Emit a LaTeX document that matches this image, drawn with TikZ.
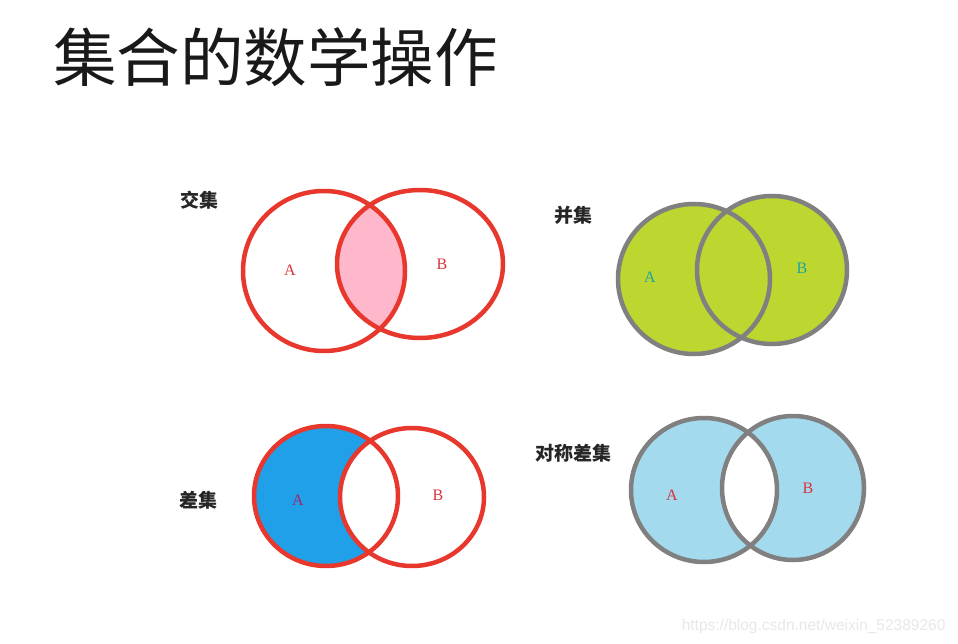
\documentclass[tikz,border=0pt]{standalone}
\usepackage{fontspec}
\setmainfont{Liberation Serif}
\newfontfamily\cjk{Noto Sans CJK SC}
\newfontfamily\urlfont{Liberation Sans}
\definecolor{vred}{HTML}{E8372C}
\definecolor{vgray}{HTML}{808080}
\definecolor{vpink}{HTML}{FFB7CB}
\definecolor{vgreen}{HTML}{BDD630}
\definecolor{vblue}{HTML}{1FA0E8}
\definecolor{vlblue}{HTML}{A4DAEE}
\definecolor{vteal}{HTML}{1AA6A0}
\definecolor{vlab}{HTML}{D8343C}
\tikzset{
  redring/.style={draw=vred,line width=4.5pt},
  grayring/.style={draw=vgray,line width=4.5pt},
  lab/.style={font=\fontsize{16}{16}\selectfont,text=vlab},
  head/.style={font=\cjk\bfseries\fontsize{19}{19}\selectfont,text=black!85},
}
\begin{document}
\begin{tikzpicture}[x=1pt,y=-1pt]
\useasboundingbox[fill=white] (0,0) rectangle (958,644);
% title
\node[font=\cjk\fontsize{63.5}{64}\selectfont,anchor=west,inner sep=0,text=black!90] (title) at (53,57) {集合的数学操作};
% ---- intersection
\begin{scope}
\clip (324,271) ellipse [x radius=81,y radius=80];
\fill[vpink] (420,264) ellipse [x radius=83,y radius=74];
\end{scope}
\draw[redring] (324,271) ellipse [x radius=81,y radius=80];
\draw[redring] (420,264) ellipse [x radius=83,y radius=74];
\node[lab] (iA) at (290,270) {A};
\node[lab] (iB) at (442,264) {B};
\node[head] (hI) at (199,200) {交集};
% ---- union
\fill[vgreen] (694,279) ellipse [x radius=76,y radius=75];
\fill[vgreen] (772,270) ellipse [x radius=75,y radius=74];
\draw[grayring] (694,279) ellipse [x radius=76,y radius=75];
\draw[grayring] (772,270) ellipse [x radius=75,y radius=74];
\node[lab,text=vteal] (uA) at (650,277) {A};
\node[lab,text=vteal] (uB) at (802,268) {B};
\node[head] (hU) at (573,215) {并集};
% ---- difference
\fill[vblue] (326,496) ellipse [x radius=72,y radius=70];
\fill[white] (412,497) ellipse [x radius=72,y radius=69];
\draw[redring] (326,496) ellipse [x radius=72,y radius=70];
\draw[redring] (412,497) ellipse [x radius=72,y radius=69];
\node[lab,text=vlab!75!blue] (dA) at (298,500) {A};
\node[lab] (dB) at (438,495) {B};
\node[head] (hD) at (198,500) {差集};
% ---- symmetric difference
\fill[vlblue,even odd rule] (704,490) ellipse [x radius=73,y radius=72]
  (793,488) ellipse [x radius=71,y radius=72];
\draw[grayring] (704,490) ellipse [x radius=73,y radius=72];
\draw[grayring] (793,488) ellipse [x radius=71,y radius=72];
\node[lab] (sA) at (672,495) {A};
\node[lab] (sB) at (808,488) {B};
\node[head] (hS) at (573,453) {对称差集};
% watermark
\node[font=\urlfont\fontsize{15.5}{16}\selectfont,text=black!9,anchor=east] (wm) at (949,626) {https://blog.csdn.net/weixin\_52389260};
\end{tikzpicture}
\end{document}
